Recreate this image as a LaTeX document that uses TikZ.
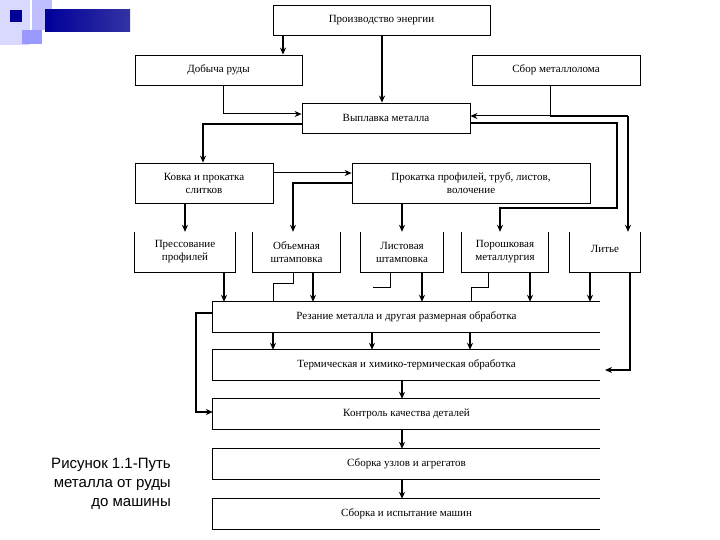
\documentclass[tikz,border=0pt]{standalone}
\usepackage{fontspec}
\setmainfont{Liberation Serif}
\newfontfamily\capfont{Liberation Sans}
\usetikzlibrary{arrows.meta}
\begin{document}
\begin{tikzpicture}[x=1pt,y=-1pt,
  box/.style={draw,line width=0.8pt,inner sep=1pt,align=center,font=\fontsize{11}{13}\selectfont},
  obox/.style={inner sep=1pt,align=center,font=\fontsize{11}{13}\selectfont},
  thk/.style={line width=2pt,-{Stealth[length=7pt,width=6pt]}},
  thn/.style={line width=0.8pt},
  thna/.style={line width=1pt,-{Stealth[length=7pt,width=6pt]}}]
\useasboundingbox (0,0) rectangle (720,540);
% decoration
\fill[blue!15] (0,0) rectangle (30,45);
\fill[blue!25!white] (32,0) rectangle (52,30);
\fill[blue!40] (22,30) rectangle (42,44);
\fill[blue!60!black] (10,10) rectangle (22,22);
\shade[left color=blue!60!black,right color=blue!55!black!80] (45,10) rectangle (130,32);
% nodes
\node[box,minimum width=217,minimum height=30] (en) at (381.5,20) {Производство энергии};
\node[box,minimum width=167,minimum height=30] (ore) at (218.5,70) {Добыча руды};
\node[box,minimum width=168,minimum height=30] (scr) at (556,70) {Сбор металлолома};
\node[box,minimum width=168,minimum height=30] (sm) at (386,118) {Выплавка металла};
\node[box,minimum width=138,minimum height=40] (fo) at (204,183) {Ковка и прокатка\\слитков};
\node[box,minimum width=238,minimum height=40] (ro) at (471,183) {Прокатка профилей, труб, листов,\\волочение};
\node[obox,minimum width=100,minimum height=40] (pr) at (185,252) {Прессование\\профилей};
\node[obox,minimum width=87,minimum height=40] (vo) at (296.5,252) {Объемная\\штамповка};
\node[obox,minimum width=82,minimum height=40] (li) at (402,252) {Листовая\\штамповка};
\node[obox,minimum width=86,minimum height=40] (po) at (505,252) {Порошковая\\металлургия};
\node[obox,minimum width=70,minimum height=40] (lt) at (605,252) {\raisebox{7pt}{Литье}};
\foreach \n in {pr,vo,li,po,lt}
  \draw[thn] (\n.north west)--(\n.south west)--(\n.south east)--(\n.north east);
\node[obox,minimum width=387,minimum height=30] (cu) at (406.5,317) {Резание металла и другая размерная обработка};
\node[obox,minimum width=387,minimum height=30] (th) at (406.5,365) {Термическая и химико-термическая обработка};
\node[obox,minimum width=387,minimum height=30] (qc) at (406.5,414) {Контроль качества деталей};
\node[obox,minimum width=387,minimum height=30] (au) at (406.5,464) {Сборка узлов и агрегатов};
\node[obox,minimum width=387,minimum height=30] (am) at (406.5,514) {Сборка и испытание машин};
\foreach \n in {cu,th,qc,au,am}
  \draw[thn] (\n.north east)--(\n.north west)--(\n.south west)--(\n.south east);
\node[align=right,anchor=north east,inner sep=0pt,font=\capfont\fontsize{15}{19}\selectfont] (cap) at (171,458) {Рисунок 1.1-Путь\\металла от руды\\до машины};
% connectors
\draw[thk] (en.south -| 283,0) -- (ore.north -| 283,0);
\draw[thk] (en.south -| 382,0) -- (sm.north -| 382,0);
\draw[thna] (ore.south -| 223,0) -- (223,114) -- (sm.west |- 0,114);
\draw[thna] (scr.south -| 550,0) -- (550,116) -- (sm.east |- 0,116);
\draw[line width=2pt] (550,116) -- (628,116);
\draw[thk] (628,116) -- (lt.north -| 628,0);
\draw[thk] (sm.west |- 0,124) -- (203,124) -- (fo.north -| 203,0);
\draw[line width=2pt] (sm.east |- 0,123) -- (617,123) -- (617,208) -- (500,208);
\draw[thk] (500,207) -- (po.north -| 500,0);
\draw[thna] (fo.east |- 0,173) -- (ro.west |- 0,173);
\draw[thk] (fo.south -| 185,0) -- (pr.north -| 185,0);
\draw[thk] (ro.west |- 0,183) -- (293,183) -- (vo.north -| 293,0);
\draw[thk] (ro.south -| 402,0) -- (li.north -| 402,0);
% row5 to cut
\draw[thk] (pr.south -| 224,0) -- (cu.north -| 224,0);
\draw[thk] (vo.south -| 313,0) -- (cu.north -| 313,0);
\draw[thk] (li.south -| 422,0) -- (cu.north -| 422,0);
\draw[thk] (po.south -| 530,0) -- (cu.north -| 530,0);
\draw[thk] (lt.south -| 590,0) -- (cu.north -| 590,0);
\draw[thn] (vo.south -| 293,0) -- (293,283) -- (273,283) -- (cu.north -| 273,0);
\draw[thn] (li.south -| 390,0) -- (390,287) -- (373,287);
\draw[thn] (po.south -| 488,0) -- (488,287) -- (471,287) -- (cu.north -| 471,0);
\draw[thk] (lt.south -| 630,0) -- (630,370) -- (605,370);
\foreach \xx in {273,372,470}
  \draw[thk] (cu.south -| \xx,0) -- (th.north -| \xx,0);
\draw[thk] (cu.west |- 0,313) -- (196,313) -- (196,412) -- (qc.west |- 0,412);
\draw[thk] (th.south -| 402,0) -- (qc.north -| 402,0);
\draw[thk] (qc.south -| 402,0) -- (au.north -| 402,0);
\draw[thk] (au.south -| 402,0) -- (am.north -| 402,0);
\end{tikzpicture}
\end{document}
